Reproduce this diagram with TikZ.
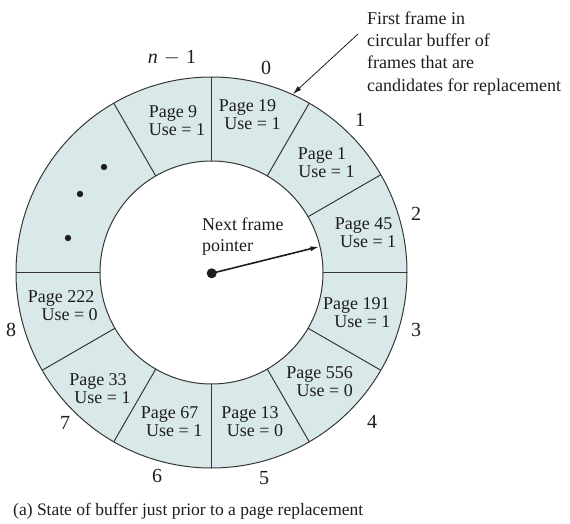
\documentclass[tikz,border=0pt]{standalone}
\usepackage{fontspec}
\setmainfont{Liberation Serif}
\usetikzlibrary{arrows.meta}
\definecolor{ringfill}{RGB}{217,232,232}
\definecolor{edgegray}{RGB}{55,55,55}
\definecolor{ink}{RGB}{30,28,32}
% Two-line frame label: page number and use bit, second line nudged right
\newcommand{\framelabel}[3][10pt]{Page #2\\\hspace*{#1}Use = #3}
\begin{document}
\begin{tikzpicture}[x=1pt,y=1pt,
  framebox/.style={align=center, inner sep=0pt, text=ink,
    font=\fontsize{18}{18}\selectfont},
  idx/.style={inner sep=0pt, text=ink, font=\fontsize{20}{20}\selectfont},
  note/.style={align=left, inner sep=0pt, text=ink},
  ringline/.style={draw=edgegray, line width=1pt},
  tipline/.style={draw=ink, -{Latex[length=9pt,width=5pt]}}]
\useasboundingbox (0,0) rectangle (570,523);

% ring of buffer frames
\coordinate (c) at (211.5,250.5);
\fill[ringfill, even odd rule] (c) circle (195.5) (c) circle (111.5);
\draw[ringline] (c) circle (195.5) (c) circle (111.5);
\foreach \a in {120,90,60,30,0,-30,-60,-90,-120,-150,180}
  \draw[ringline] (c) ++(\a:111.5) -- ++(\a:84);

% frame contents
\node[framebox] (p9)   at (173,402.6) {\framelabel[8pt]{9}{1}};
\node[framebox] (p19)  at (247.5,408.8) {\framelabel{19}{1}};
\node[framebox] (p1)   at (322,360) {\framelabel[9pt]{1}{1}};
\node[framebox] (p45)  at (363.6,290) {\framelabel[9pt]{45}{1}};
\node[framebox] (p191) at (356.4,210) {\framelabel[12pt]{191}{1}};
\node[framebox] (p556) at (319.7,141) {\framelabel{556}{0}};
\node[framebox] (p13)  at (250,101) {\framelabel{13}{0}};
\node[framebox] (p67)  at (169.7,101) {\framelabel[9pt]{67}{1}};
\node[framebox] (p33)  at (98,134) {\framelabel[9pt]{33}{1}};
\node[framebox] (p222) at (61.1,217) {\framelabel[17pt]{222}{0}};

% elided frames
\fill[ink] (104,356) circle (3.2) (80,329) circle (3.2) (68,285) circle (3.2);

% frame indices
\node[idx] (in1) at (172,465) {\textit{n}\hspace{0.3em}$-$\hspace{0.3em}1};
\node[idx] (i0) at (266,455) {0};
\node[idx] (i1) at (360,403) {1};
\node[idx] (i2) at (416,309) {2};
\node[idx] (i3) at (416,193) {3};
\node[idx] (i4) at (372,101) {4};
\node[idx] (i5) at (264,45) {5};
\node[idx] (i6) at (157,47) {6};
\node[idx] (i7) at (65,100) {7};
\node[idx] (i8) at (11,193) {8};

% first-frame annotation
\node[note, anchor=north west, font=\fontsize{18}{22.3}\selectfont] (first) at (367,511.7)
  {First frame in\\circular buffer of\\frames that are\\candidates for replacement};
\coordinate (firstfrom) at (358,489);
\path (c) ++(65.5:196) coordinate (firstto);
\draw[tipline, line width=0.8pt] (firstfrom) -- (firstto);

% next frame pointer
\node[note, anchor=north west, font=\fontsize{18}{21}\selectfont] (nextlbl) at (202,305.5)
  {Next frame\\pointer};
\node[circle, fill=ink, inner sep=0pt, minimum size=10pt] (hub) at (211.7,249.7) {};
\path (c) ++(13.5:111) coordinate (ptip);
\draw[tipline, line width=1.6pt] (hub.center) -- (ptip);

% caption
\node[anchor=base west, inner sep=0pt, text=ink, font=\fontsize{17.5}{18}\selectfont] (cap) at (13,8)
  {(a) State of buffer just prior to a page replacement};
\end{tikzpicture}
\end{document}
